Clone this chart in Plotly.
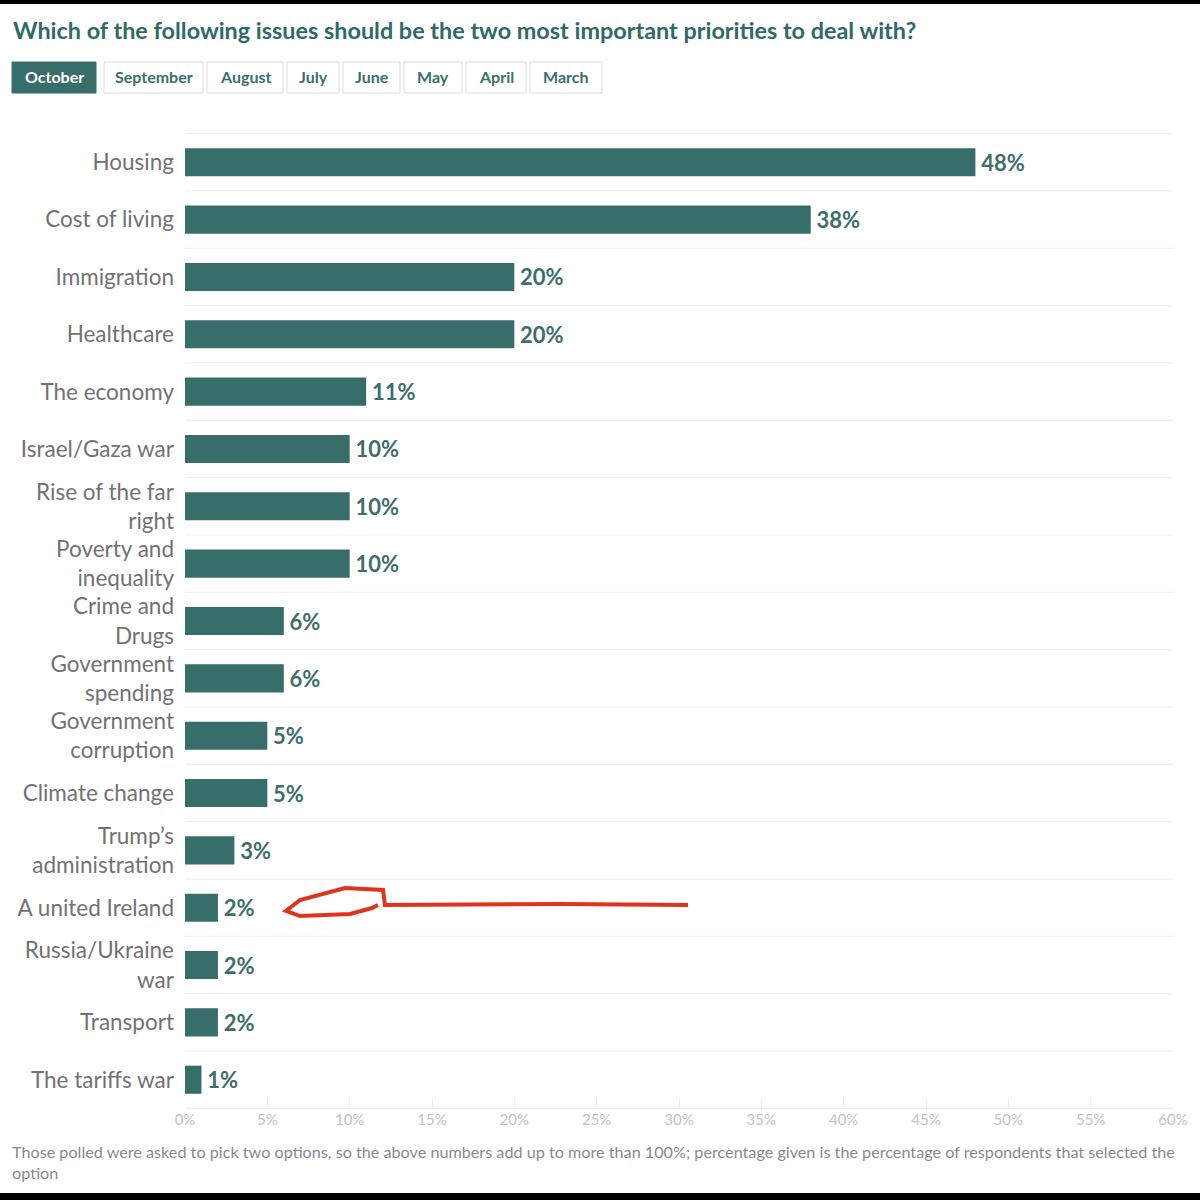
import plotly.graph_objects as go

categories = ["Housing", "Cost of living", "Immigration", "Healthcare", "The economy",
              "Israel/Gaza war", "Rise of the far<br>right", "Poverty and<br>inequality",
              "Crime and<br>Drugs", "Government<br>spending", "Government<br>corruption",
              "Climate change", "Trump\u2019s<br>administration", "A united Ireland",
              "Russia/Ukraine<br>war", "Transport", "The tariffs war"]
values = [48, 38, 20, 20, 11, 10, 10, 10, 6, 6, 5, 5, 3, 2, 2, 2, 1]
value_labels = [f"{v}%" for v in values]
tabs = ["October", "September", "August", "July", "June", "May", "April", "March"]
x_ticks = list(range(0, 61, 5))
x_tick_labels = [f"{v}%" for v in x_ticks]

TEAL = "#386e6a"
TITLE_C = "#2f6a66"
FONT = "Lato"

W, H = 1200, 1200
L, R, T, B = 185, 1173, 133, 1109


def px(xp):
    return (xp - L) / (R - L)


def py(yp):
    return (B - yp) / (B - T)


fig = go.Figure()
fig.add_trace(go.Bar(
    y=categories, x=values, orientation="h",
    marker=dict(color=TEAL, line=dict(width=0)),
    text=value_labels, texttemplate="\u2009%{text}", textposition="outside",
    textfont=dict(family=FONT, size=22, color="#3d6e6a", weight="bold"),
    cliponaxis=False, hoverinfo="skip",
))

shapes = []
# horizontal separators between categories
for i in range(len(categories) + 1):
    shapes.append(dict(type="line", xref="paper", yref="y", x0=0, x1=1,
                       y0=i - 0.5, y1=i - 0.5,
                       line=dict(color="#efefef", width=1.2), layer="below"))

# tabs
tab_edges = [(12, 96), (104, 203), (207, 283), (287, 339), (343, 400), (404, 462), (466, 526), (530, 602)]
annotations = []
for i, (name, (a, b)) in enumerate(zip(tabs, tab_edges)):
    active = i == 0
    shapes.append(dict(type="rect", xref="paper", yref="paper",
                       x0=px(a), x1=px(b), y0=py(93), y1=py(62),
                       fillcolor=TEAL if active else "white",
                       line=dict(color=TEAL if active else "#dddddd", width=1)))
    annotations.append(dict(xref="paper", yref="paper", x=px((a + b) / 2), y=py(76.5),
                            text=f"<b>{name}</b>", showarrow=False,
                            font=dict(family=FONT, size=16,
                                      color="white" if active else "#3b6f6b"),
                            xanchor="center", yanchor="middle"))

# title
annotations.append(dict(xref="paper", yref="paper", x=px(11), y=py(30),
                        text="<b>Which of the following issues should be the two most important priorities to deal with?</b>",
                        showarrow=False, xanchor="left", yanchor="middle",
                        font=dict(family=FONT, size=23.4, color=TITLE_C)))
# footnote
annotations.append(dict(xref="paper", yref="paper", x=px(10), y=py(1162),
                        text="Those polled were asked to pick two options, so the above numbers add up to more than 100%; percentage given is the percentage of respondents that selected the<br>option",
                        showarrow=False, xanchor="left", yanchor="middle", align="left",
                        font=dict(family=FONT, size=16.2, color="#8a8a8a")))

# black frame bands (screenshot edges)
shapes.append(dict(type="rect", xref="paper", yref="paper", x0=px(-5), x1=px(W + 5),
                   y0=py(4), y1=py(-5), fillcolor="black", line=dict(width=0)))
shapes.append(dict(type="rect", xref="paper", yref="paper", x0=px(-5), x1=px(W + 5),
                   y0=py(1205), y1=py(1193), fillcolor="black", line=dict(width=0)))

# hand-drawn red arrow
pts = [(688, 905), (560, 904), (385, 905), (383, 890), (345, 888), (300, 900),
       (286, 911), (300, 916), (350, 914), (372, 908), (378, 905)]
path = "M " + " L ".join(f"{px(x):.4f},{py(y):.4f}" for x, y in pts)
shapes.append(dict(type="path", xref="paper", yref="paper", path=path,
                   line=dict(color="#e2321c", width=4)))

fig.update_layout(
    width=W, height=H,
    margin=dict(l=L, r=W - R, t=T, b=H - B, pad=0),
    paper_bgcolor="white", plot_bgcolor="white",
    showlegend=False, bargap=0.51,
    shapes=shapes, annotations=annotations,
    xaxis=dict(range=[0, 60], tickvals=x_ticks, ticktext=x_tick_labels,
               showgrid=False, zeroline=False, showline=False,
               ticks="inside", ticklen=10, tickcolor="#ececec", tickwidth=1,
               tickfont=dict(family=FONT, size=15, color="#c4c4c4"), fixedrange=True),
    yaxis=dict(autorange="reversed", showgrid=False, zeroline=False, showline=False,
               ticks="", ticklabelstandoff=10,
               tickfont=dict(family=FONT, size=22.5, color="#727272"), fixedrange=True),
)

fig.write_html("out.html", config={"displayModeBar": False},
               post_script="document.body.style.margin='0';document.body.style.overflow='hidden';")
